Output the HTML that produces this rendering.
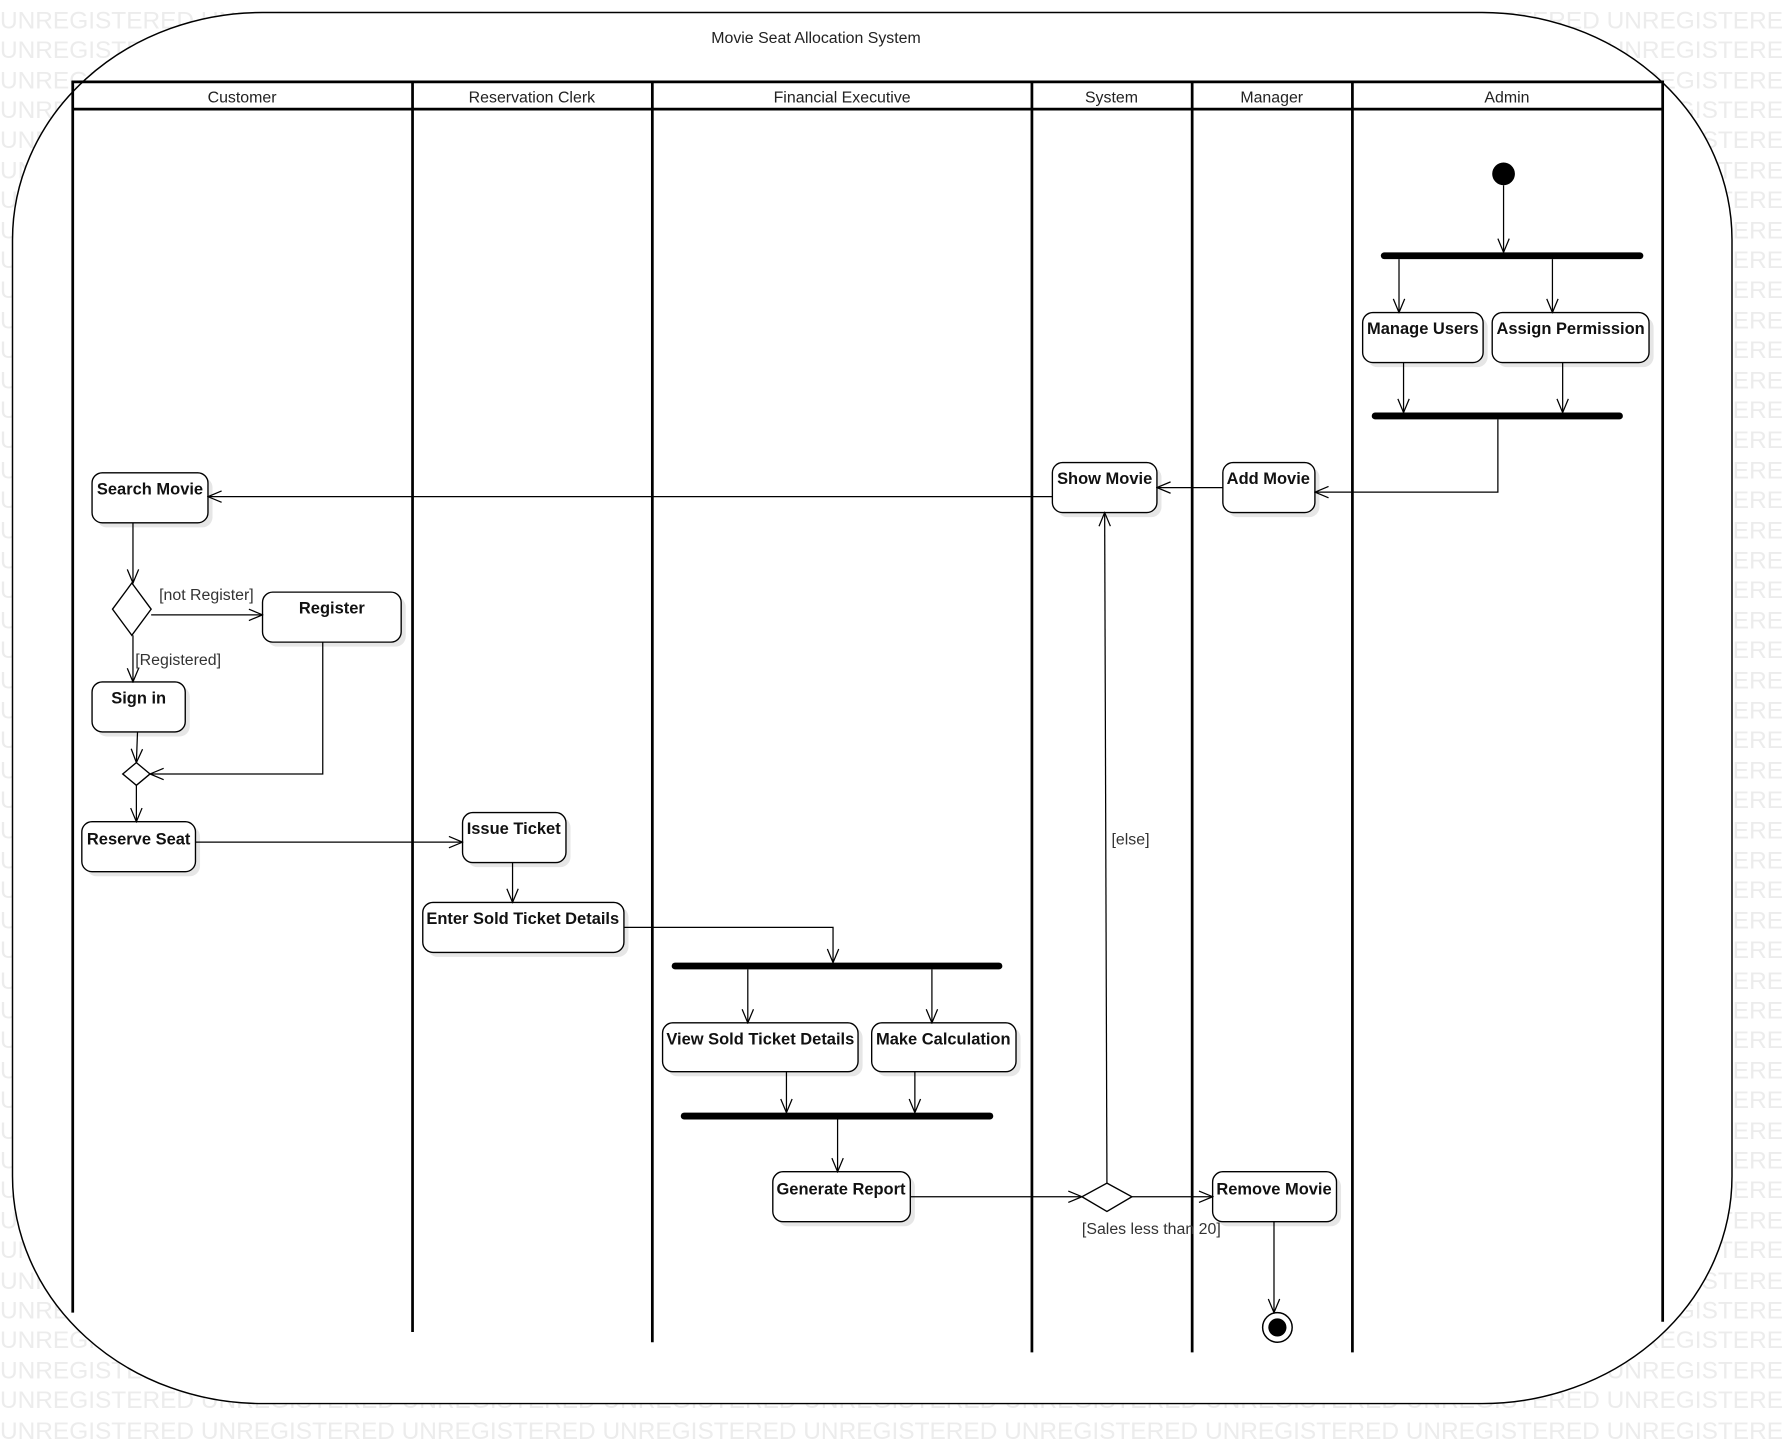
<!DOCTYPE html>
<html><head><meta charset="utf-8"><style>
html,body{margin:0;padding:0;background:#fff;width:1782px;height:1452px;overflow:hidden}
svg{display:block}
.wm{font-family:"Liberation Sans",sans-serif;font-size:21.5px;fill:#ececec}
.b{fill:#fff;stroke:#000;stroke-width:1.2}
.sh{fill:#e6e6e6}
.t{font-family:"Liberation Sans",sans-serif;font-size:14.5px;font-weight:bold;text-anchor:middle;fill:#111}
.l{font-family:"Liberation Sans",sans-serif;font-size:14px;fill:#333}
.h{font-family:"Liberation Sans",sans-serif;font-size:14px;fill:#222;text-anchor:middle}
.e{fill:none;stroke:#000;stroke-width:1.1}
</style></head><body>
<svg width="1782" height="1452" viewBox="0 0 1568 1277.6" xmlns="http://www.w3.org/2000/svg">
<defs><marker id="a" markerWidth="14" markerHeight="12" refX="13" refY="6" orient="auto" markerUnits="userSpaceOnUse"><path d="M1,1 L13,6 L1,11" fill="none" stroke="#000" stroke-width="1.1"/></marker></defs>
<g class="wm">
<text x="0" y="25">UNREGISTERED UNREGISTERED UNREGISTERED UNREGISTERED UNREGISTERED UNREGISTERED UNREGISTERED UNREGISTERED UNREGISTERED UNREGISTERED</text>
<text x="0" y="51">UNREGISTERED UNREGISTERED UNREGISTERED UNREGISTERED UNREGISTERED UNREGISTERED UNREGISTERED UNREGISTERED UNREGISTERED UNREGISTERED</text>
<text x="0" y="78">UNREGISTERED UNREGISTERED UNREGISTERED UNREGISTERED UNREGISTERED UNREGISTERED UNREGISTERED UNREGISTERED UNREGISTERED UNREGISTERED</text>
<text x="0" y="104">UNREGISTERED UNREGISTERED UNREGISTERED UNREGISTERED UNREGISTERED UNREGISTERED UNREGISTERED UNREGISTERED UNREGISTERED UNREGISTERED</text>
<text x="0" y="130">UNREGISTERED UNREGISTERED UNREGISTERED UNREGISTERED UNREGISTERED UNREGISTERED UNREGISTERED UNREGISTERED UNREGISTERED UNREGISTERED</text>
<text x="0" y="157">UNREGISTERED UNREGISTERED UNREGISTERED UNREGISTERED UNREGISTERED UNREGISTERED UNREGISTERED UNREGISTERED UNREGISTERED UNREGISTERED</text>
<text x="0" y="183">UNREGISTERED UNREGISTERED UNREGISTERED UNREGISTERED UNREGISTERED UNREGISTERED UNREGISTERED UNREGISTERED UNREGISTERED UNREGISTERED</text>
<text x="0" y="210">UNREGISTERED UNREGISTERED UNREGISTERED UNREGISTERED UNREGISTERED UNREGISTERED UNREGISTERED UNREGISTERED UNREGISTERED UNREGISTERED</text>
<text x="0" y="236">UNREGISTERED UNREGISTERED UNREGISTERED UNREGISTERED UNREGISTERED UNREGISTERED UNREGISTERED UNREGISTERED UNREGISTERED UNREGISTERED</text>
<text x="0" y="262">UNREGISTERED UNREGISTERED UNREGISTERED UNREGISTERED UNREGISTERED UNREGISTERED UNREGISTERED UNREGISTERED UNREGISTERED UNREGISTERED</text>
<text x="0" y="289">UNREGISTERED UNREGISTERED UNREGISTERED UNREGISTERED UNREGISTERED UNREGISTERED UNREGISTERED UNREGISTERED UNREGISTERED UNREGISTERED</text>
<text x="0" y="315">UNREGISTERED UNREGISTERED UNREGISTERED UNREGISTERED UNREGISTERED UNREGISTERED UNREGISTERED UNREGISTERED UNREGISTERED UNREGISTERED</text>
<text x="0" y="342">UNREGISTERED UNREGISTERED UNREGISTERED UNREGISTERED UNREGISTERED UNREGISTERED UNREGISTERED UNREGISTERED UNREGISTERED UNREGISTERED</text>
<text x="0" y="368">UNREGISTERED UNREGISTERED UNREGISTERED UNREGISTERED UNREGISTERED UNREGISTERED UNREGISTERED UNREGISTERED UNREGISTERED UNREGISTERED</text>
<text x="0" y="394">UNREGISTERED UNREGISTERED UNREGISTERED UNREGISTERED UNREGISTERED UNREGISTERED UNREGISTERED UNREGISTERED UNREGISTERED UNREGISTERED</text>
<text x="0" y="421">UNREGISTERED UNREGISTERED UNREGISTERED UNREGISTERED UNREGISTERED UNREGISTERED UNREGISTERED UNREGISTERED UNREGISTERED UNREGISTERED</text>
<text x="0" y="447">UNREGISTERED UNREGISTERED UNREGISTERED UNREGISTERED UNREGISTERED UNREGISTERED UNREGISTERED UNREGISTERED UNREGISTERED UNREGISTERED</text>
<text x="0" y="474">UNREGISTERED UNREGISTERED UNREGISTERED UNREGISTERED UNREGISTERED UNREGISTERED UNREGISTERED UNREGISTERED UNREGISTERED UNREGISTERED</text>
<text x="0" y="500">UNREGISTERED UNREGISTERED UNREGISTERED UNREGISTERED UNREGISTERED UNREGISTERED UNREGISTERED UNREGISTERED UNREGISTERED UNREGISTERED</text>
<text x="0" y="526">UNREGISTERED UNREGISTERED UNREGISTERED UNREGISTERED UNREGISTERED UNREGISTERED UNREGISTERED UNREGISTERED UNREGISTERED UNREGISTERED</text>
<text x="0" y="553">UNREGISTERED UNREGISTERED UNREGISTERED UNREGISTERED UNREGISTERED UNREGISTERED UNREGISTERED UNREGISTERED UNREGISTERED UNREGISTERED</text>
<text x="0" y="579">UNREGISTERED UNREGISTERED UNREGISTERED UNREGISTERED UNREGISTERED UNREGISTERED UNREGISTERED UNREGISTERED UNREGISTERED UNREGISTERED</text>
<text x="0" y="606">UNREGISTERED UNREGISTERED UNREGISTERED UNREGISTERED UNREGISTERED UNREGISTERED UNREGISTERED UNREGISTERED UNREGISTERED UNREGISTERED</text>
<text x="0" y="632">UNREGISTERED UNREGISTERED UNREGISTERED UNREGISTERED UNREGISTERED UNREGISTERED UNREGISTERED UNREGISTERED UNREGISTERED UNREGISTERED</text>
<text x="0" y="658">UNREGISTERED UNREGISTERED UNREGISTERED UNREGISTERED UNREGISTERED UNREGISTERED UNREGISTERED UNREGISTERED UNREGISTERED UNREGISTERED</text>
<text x="0" y="685">UNREGISTERED UNREGISTERED UNREGISTERED UNREGISTERED UNREGISTERED UNREGISTERED UNREGISTERED UNREGISTERED UNREGISTERED UNREGISTERED</text>
<text x="0" y="711">UNREGISTERED UNREGISTERED UNREGISTERED UNREGISTERED UNREGISTERED UNREGISTERED UNREGISTERED UNREGISTERED UNREGISTERED UNREGISTERED</text>
<text x="0" y="738">UNREGISTERED UNREGISTERED UNREGISTERED UNREGISTERED UNREGISTERED UNREGISTERED UNREGISTERED UNREGISTERED UNREGISTERED UNREGISTERED</text>
<text x="0" y="764">UNREGISTERED UNREGISTERED UNREGISTERED UNREGISTERED UNREGISTERED UNREGISTERED UNREGISTERED UNREGISTERED UNREGISTERED UNREGISTERED</text>
<text x="0" y="790">UNREGISTERED UNREGISTERED UNREGISTERED UNREGISTERED UNREGISTERED UNREGISTERED UNREGISTERED UNREGISTERED UNREGISTERED UNREGISTERED</text>
<text x="0" y="817">UNREGISTERED UNREGISTERED UNREGISTERED UNREGISTERED UNREGISTERED UNREGISTERED UNREGISTERED UNREGISTERED UNREGISTERED UNREGISTERED</text>
<text x="0" y="843">UNREGISTERED UNREGISTERED UNREGISTERED UNREGISTERED UNREGISTERED UNREGISTERED UNREGISTERED UNREGISTERED UNREGISTERED UNREGISTERED</text>
<text x="0" y="870">UNREGISTERED UNREGISTERED UNREGISTERED UNREGISTERED UNREGISTERED UNREGISTERED UNREGISTERED UNREGISTERED UNREGISTERED UNREGISTERED</text>
<text x="0" y="896">UNREGISTERED UNREGISTERED UNREGISTERED UNREGISTERED UNREGISTERED UNREGISTERED UNREGISTERED UNREGISTERED UNREGISTERED UNREGISTERED</text>
<text x="0" y="922">UNREGISTERED UNREGISTERED UNREGISTERED UNREGISTERED UNREGISTERED UNREGISTERED UNREGISTERED UNREGISTERED UNREGISTERED UNREGISTERED</text>
<text x="0" y="949">UNREGISTERED UNREGISTERED UNREGISTERED UNREGISTERED UNREGISTERED UNREGISTERED UNREGISTERED UNREGISTERED UNREGISTERED UNREGISTERED</text>
<text x="0" y="975">UNREGISTERED UNREGISTERED UNREGISTERED UNREGISTERED UNREGISTERED UNREGISTERED UNREGISTERED UNREGISTERED UNREGISTERED UNREGISTERED</text>
<text x="0" y="1002">UNREGISTERED UNREGISTERED UNREGISTERED UNREGISTERED UNREGISTERED UNREGISTERED UNREGISTERED UNREGISTERED UNREGISTERED UNREGISTERED</text>
<text x="0" y="1028">UNREGISTERED UNREGISTERED UNREGISTERED UNREGISTERED UNREGISTERED UNREGISTERED UNREGISTERED UNREGISTERED UNREGISTERED UNREGISTERED</text>
<text x="0" y="1054">UNREGISTERED UNREGISTERED UNREGISTERED UNREGISTERED UNREGISTERED UNREGISTERED UNREGISTERED UNREGISTERED UNREGISTERED UNREGISTERED</text>
<text x="0" y="1081">UNREGISTERED UNREGISTERED UNREGISTERED UNREGISTERED UNREGISTERED UNREGISTERED UNREGISTERED UNREGISTERED UNREGISTERED UNREGISTERED</text>
<text x="0" y="1107">UNREGISTERED UNREGISTERED UNREGISTERED UNREGISTERED UNREGISTERED UNREGISTERED UNREGISTERED UNREGISTERED UNREGISTERED UNREGISTERED</text>
<text x="0" y="1134">UNREGISTERED UNREGISTERED UNREGISTERED UNREGISTERED UNREGISTERED UNREGISTERED UNREGISTERED UNREGISTERED UNREGISTERED UNREGISTERED</text>
<text x="0" y="1160">UNREGISTERED UNREGISTERED UNREGISTERED UNREGISTERED UNREGISTERED UNREGISTERED UNREGISTERED UNREGISTERED UNREGISTERED UNREGISTERED</text>
<text x="0" y="1186">UNREGISTERED UNREGISTERED UNREGISTERED UNREGISTERED UNREGISTERED UNREGISTERED UNREGISTERED UNREGISTERED UNREGISTERED UNREGISTERED</text>
<text x="0" y="1213">UNREGISTERED UNREGISTERED UNREGISTERED UNREGISTERED UNREGISTERED UNREGISTERED UNREGISTERED UNREGISTERED UNREGISTERED UNREGISTERED</text>
<text x="0" y="1239">UNREGISTERED UNREGISTERED UNREGISTERED UNREGISTERED UNREGISTERED UNREGISTERED UNREGISTERED UNREGISTERED UNREGISTERED UNREGISTERED</text>
<text x="0" y="1266">UNREGISTERED UNREGISTERED UNREGISTERED UNREGISTERED UNREGISTERED UNREGISTERED UNREGISTERED UNREGISTERED UNREGISTERED UNREGISTERED</text>
</g>
<rect x="11" y="11" width="1513" height="1224" rx="220" ry="200" fill="#fff" stroke="#000" stroke-width="1.3"/>
<text class="h" x="718" y="38">Movie Seat Allocation System</text>
<g stroke="#000" stroke-width="2.4" fill="none">
<line x1="63" y1="72" x2="1464" y2="72"/>
<line x1="63" y1="96" x2="1464" y2="96"/>
<line x1="64" y1="71" x2="64" y2="1155"/>
<line x1="363" y1="71" x2="363" y2="1172"/>
<line x1="574" y1="71" x2="574" y2="1181"/>
<line x1="908" y1="71" x2="908" y2="1190"/>
<line x1="1049" y1="71" x2="1049" y2="1190"/>
<line x1="1190" y1="71" x2="1190" y2="1190"/>
<line x1="1463" y1="71" x2="1463" y2="1163"/>
</g>
<g class="h">
<text x="213" y="90">Customer</text><text x="468" y="90">Reservation Clerk</text>
<text x="741" y="90">Financial Executive</text><text x="978" y="90">System</text>
<text x="1119" y="90">Manager</text><text x="1326" y="90">Admin</text>
</g>
<g stroke="#000" stroke-width="6" stroke-linecap="round">
<line x1="1218" y1="225" x2="1443" y2="225"/>
<line x1="1210" y1="366" x2="1425" y2="366"/>
<line x1="594" y1="850" x2="879" y2="850"/>
<line x1="602" y1="982" x2="871" y2="982"/>
</g>
<circle cx="1323" cy="153" r="10" fill="#000"/>
<circle cx="1124" cy="1168" r="13" fill="#fff" stroke="#000" stroke-width="1.3"/>
<circle cx="1124" cy="1168" r="8" fill="#000"/>
<g>
<rect class="sh" x="1203" y="279" width="106" height="44" rx="9"/><rect class="b" x="1199" y="275" width="106" height="44" rx="9"/>
<rect class="sh" x="1317" y="279" width="138" height="44" rx="9"/><rect class="b" x="1313" y="275" width="138" height="44" rx="9"/>
<rect class="sh" x="1080" y="411" width="81" height="44" rx="9"/><rect class="b" x="1076" y="407" width="81" height="44" rx="9"/>
<rect class="sh" x="930" y="411" width="92" height="44" rx="9"/><rect class="b" x="926" y="407" width="92" height="44" rx="9"/>
<rect class="sh" x="85" y="420" width="102" height="44" rx="9"/><rect class="b" x="81" y="416" width="102" height="44" rx="9"/>
<rect class="sh" x="235" y="525" width="122" height="44" rx="9"/><rect class="b" x="231" y="521" width="122" height="44" rx="9"/>
<rect class="sh" x="85" y="604" width="82" height="44" rx="9"/><rect class="b" x="81" y="600" width="82" height="44" rx="9"/>
<rect class="sh" x="76" y="727" width="100" height="44" rx="9"/><rect class="b" x="72" y="723" width="100" height="44" rx="9"/>
<rect class="sh" x="411" y="719" width="91" height="44" rx="9"/><rect class="b" x="407" y="715" width="91" height="44" rx="9"/>
<rect class="sh" x="376" y="798" width="177" height="44" rx="9"/><rect class="b" x="372" y="794" width="177" height="44" rx="9"/>
<rect class="sh" x="587" y="904" width="172" height="43" rx="9"/><rect class="b" x="583" y="900" width="172" height="43" rx="9"/>
<rect class="sh" x="771" y="904" width="127" height="43" rx="9"/><rect class="b" x="767" y="900" width="127" height="43" rx="9"/>
<rect class="sh" x="684" y="1035" width="121" height="44" rx="9"/><rect class="b" x="680" y="1031" width="121" height="44" rx="9"/>
<rect class="sh" x="1071" y="1035" width="109" height="44" rx="9"/><rect class="b" x="1067" y="1031" width="109" height="44" rx="9"/>
</g>
<g class="t">
<text x="1252" y="294">Manage Users</text><text x="1382" y="294">Assign Permission</text>
<text x="1116" y="426">Add Movie</text><text x="972" y="426">Show Movie</text>
<text x="132" y="435">Search Movie</text><text x="292" y="540">Register</text>
<text x="122" y="619">Sign in</text><text x="122" y="743">Reserve Seat</text>
<text x="452" y="734">Issue Ticket</text><text x="460" y="813">Enter Sold Ticket Details</text>
<text x="669" y="919">View Sold Ticket Details</text><text x="830" y="919">Make Calculation</text>
<text x="740" y="1051">Generate Report</text><text x="1121" y="1051">Remove Movie</text>
</g>
<path class="b" d="M116,513 L133,536 L116,559 L99,536 Z"/>
<path class="b" d="M120,671 L132,681 L120,691 L108,681 Z"/>
<path class="b" d="M974,1041 L996,1053 L974,1066 L952,1053 Z"/>
<g class="e" marker-end="url(#a)">
<line x1="1323" y1="163" x2="1323" y2="222"/>
<line x1="1231" y1="228" x2="1231" y2="275"/>
<line x1="1366" y1="228" x2="1366" y2="275"/>
<line x1="1235" y1="319" x2="1235" y2="363"/>
<line x1="1375" y1="319" x2="1375" y2="363"/>
<polyline points="1318,369 1318,433 1157,433"/>
<line x1="1076" y1="429" x2="1018" y2="429"/>
<line x1="926" y1="437" x2="183" y2="437"/>
<line x1="117" y1="460" x2="117" y2="513"/>
<line x1="133" y1="541" x2="231" y2="541"/>
<line x1="117" y1="559" x2="117" y2="600"/>
<line x1="121" y1="644" x2="120" y2="671"/>
<polyline points="284,565 284,681 132,681"/>
<line x1="120" y1="691" x2="120" y2="723"/>
<line x1="172" y1="741" x2="407" y2="741"/>
<line x1="451" y1="759" x2="451" y2="794"/>
<polyline points="549,816 733,816 733,847"/>
<line x1="658" y1="853" x2="658" y2="900"/>
<line x1="820" y1="853" x2="820" y2="900"/>
<line x1="692" y1="943" x2="692" y2="979"/>
<line x1="805" y1="943" x2="805" y2="979"/>
<line x1="737" y1="985" x2="737" y2="1031"/>
<line x1="801" y1="1053" x2="952" y2="1053"/>
<line x1="996" y1="1053" x2="1067" y2="1053"/>
<line x1="974" y1="1041" x2="972" y2="451"/>
<line x1="1121" y1="1075" x2="1121" y2="1155"/>
</g>
<g class="l">
<text x="140" y="528">[not Register]</text><text x="119" y="585">[Registered]</text>
<text x="978" y="743">[else]</text><text x="952" y="1086">[Sales less than 20]</text>
</g>
</svg>
</body></html>
